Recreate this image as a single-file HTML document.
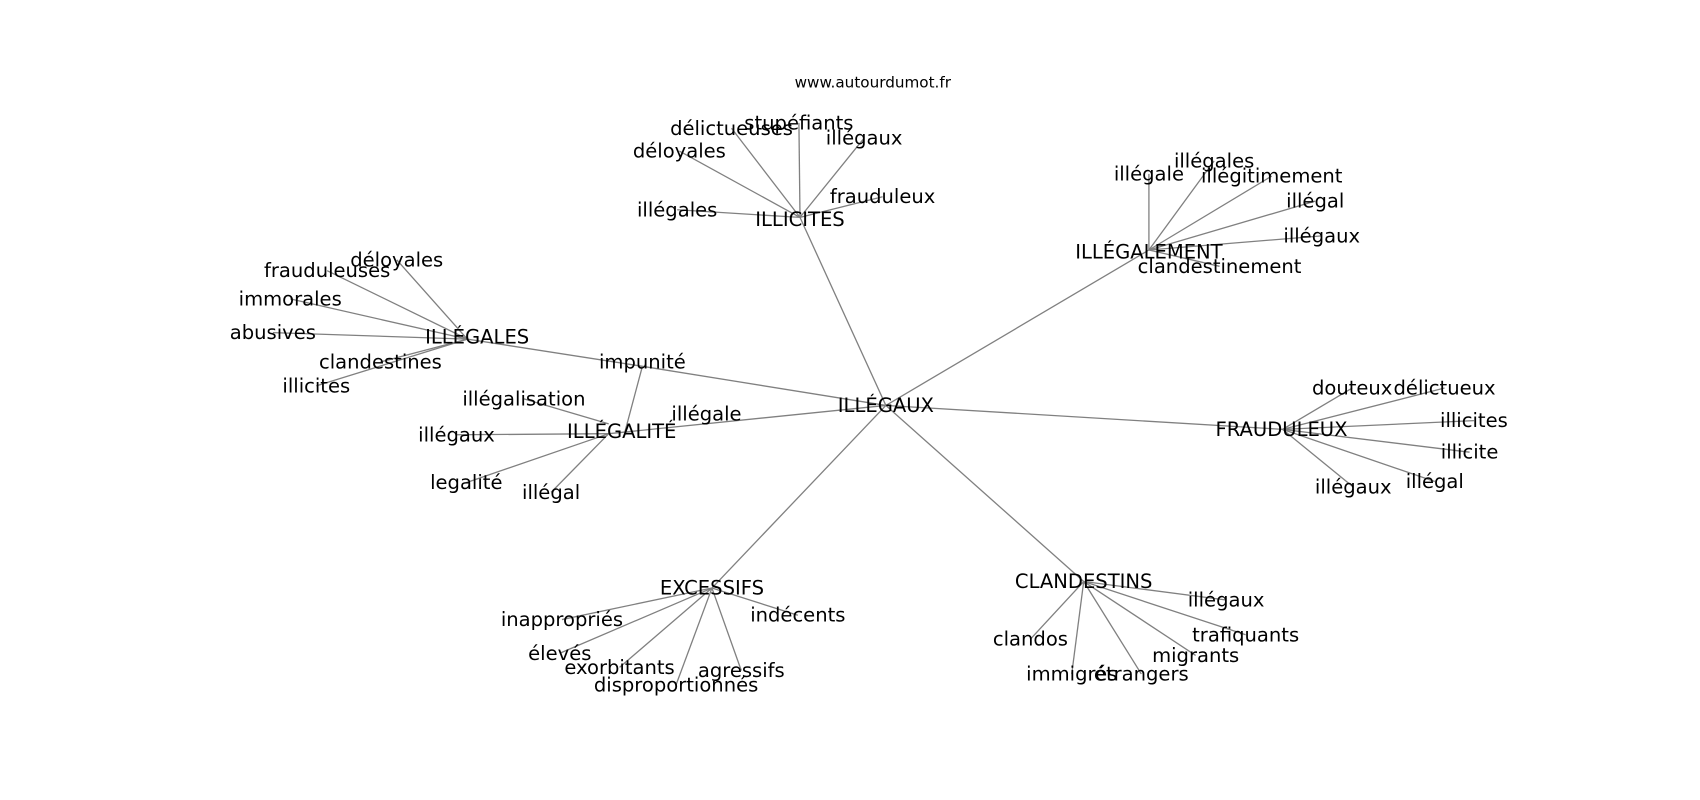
<!DOCTYPE html>
<html><head><meta charset="utf-8"><style>
html,body{margin:0;padding:0;background:#fff;}
svg{display:block;}
text{font-family:"DejaVu Sans","Liberation Sans",sans-serif;font-size:18px;fill:#000;text-anchor:middle;dominant-baseline:central;}
line{stroke:#808080;stroke-width:1.2;}
</style></head><body>
<svg width="1700" height="800" viewBox="0 0 1564 736" preserveAspectRatio="none" xmlns="http://www.w3.org/2000/svg">
<g>
<line x1="815" y1="373" x2="736" y2="200"/>
<line x1="815" y1="373" x2="1057" y2="230"/>
<line x1="815" y1="373" x2="1180" y2="395"/>
<line x1="815" y1="373" x2="997" y2="535"/>
<line x1="815" y1="373" x2="655" y2="541"/>
<line x1="815" y1="373" x2="560" y2="399"/>
<line x1="815" y1="373" x2="591" y2="337"/>
<line x1="591" y1="337" x2="430" y2="312"/>
<line x1="591" y1="337" x2="575" y2="397"/>
<line x1="736" y1="200" x2="735" y2="113"/>
<line x1="736" y1="200" x2="673" y2="118"/>
<line x1="736" y1="200" x2="795" y2="127"/>
<line x1="736" y1="200" x2="625" y2="139"/>
<line x1="736" y1="200" x2="812" y2="181"/>
<line x1="736" y1="200" x2="623" y2="193"/>
<line x1="1057" y1="230" x2="1057" y2="160"/>
<line x1="1057" y1="230" x2="1117" y2="148"/>
<line x1="1057" y1="230" x2="1170" y2="162"/>
<line x1="1057" y1="230" x2="1210" y2="185"/>
<line x1="1057" y1="230" x2="1216" y2="217"/>
<line x1="1057" y1="230" x2="1122" y2="245"/>
<line x1="1180" y1="395" x2="1244" y2="357"/>
<line x1="1180" y1="395" x2="1329" y2="357"/>
<line x1="1180" y1="395" x2="1356" y2="387"/>
<line x1="1180" y1="395" x2="1352" y2="416"/>
<line x1="1180" y1="395" x2="1320" y2="443"/>
<line x1="1180" y1="395" x2="1245" y2="448"/>
<line x1="997" y1="535" x2="1128" y2="552"/>
<line x1="997" y1="535" x2="1146" y2="584"/>
<line x1="997" y1="535" x2="1100" y2="603"/>
<line x1="997" y1="535" x2="1050" y2="620"/>
<line x1="997" y1="535" x2="986" y2="620"/>
<line x1="997" y1="535" x2="948" y2="588"/>
<line x1="655" y1="541" x2="734" y2="566"/>
<line x1="655" y1="541" x2="517" y2="570"/>
<line x1="655" y1="541" x2="515" y2="601"/>
<line x1="655" y1="541" x2="570" y2="614"/>
<line x1="655" y1="541" x2="682" y2="617"/>
<line x1="655" y1="541" x2="622" y2="630"/>
<line x1="560" y1="390" x2="482" y2="367"/>
<line x1="560" y1="399" x2="420" y2="400"/>
<line x1="560" y1="399" x2="429" y2="444"/>
<line x1="560" y1="399" x2="507" y2="453"/>
<line x1="430" y1="312" x2="365" y2="239"/>
<line x1="430" y1="312" x2="301" y2="249"/>
<line x1="430" y1="312" x2="267" y2="275"/>
<line x1="430" y1="312" x2="251" y2="306"/>
<line x1="430" y1="312" x2="350" y2="333"/>
<line x1="430" y1="312" x2="291" y2="355"/>
</g>
<text x="803" y="76" style="font-size:14px">www.autourdumot.fr</text>
<text x="815" y="373">ILLÉGAUX</text>
<text x="736" y="202">ILLICITES</text>
<text x="1057" y="232">ILLÉGALEMENT</text>
<text x="1179" y="395">FRAUDULEUX</text>
<text x="997" y="535">CLANDESTINS</text>
<text x="655" y="541">EXCESSIFS</text>
<text x="572" y="397">ILLÉGALITÉ</text>
<text x="591" y="333">impunité</text>
<text x="439" y="310">ILLÉGALES</text>

<text x="735" y="113">stupéfiants</text>
<text x="673" y="118">délictueuses</text>
<text x="795" y="127">illégaux</text>
<text x="625" y="139">déloyales</text>
<text x="812" y="181">frauduleux</text>
<text x="623" y="193">illégales</text>

<text x="1057" y="160">illégale</text>
<text x="1117" y="148">illégales</text>
<text x="1170" y="162">illégitimement</text>
<text x="1210" y="185">illégal</text>
<text x="1216" y="217">illégaux</text>
<text x="1122" y="245">clandestinement</text>

<text x="1244" y="357">douteux</text>
<text x="1329" y="357">délictueux</text>
<text x="1356" y="387">illicites</text>
<text x="1352" y="416">illicite</text>
<text x="1320" y="443">illégal</text>
<text x="1245" y="448">illégaux</text>

<text x="1128" y="552">illégaux</text>
<text x="1146" y="584">trafiquants</text>
<text x="1100" y="603">migrants</text>
<text x="1050" y="620">étrangers</text>
<text x="986" y="620">immigrés</text>
<text x="948" y="588">clandos</text>

<text x="734" y="566">indécents</text>
<text x="517" y="570">inappropriés</text>
<text x="515" y="601">élevés</text>
<text x="570" y="614">exorbitants</text>
<text x="682" y="617">agressifs</text>
<text x="622" y="630">disproportionnés</text>

<text x="482" y="367">illégalisation</text>
<text x="420" y="400">illégaux</text>
<text x="429" y="444">legalité</text>
<text x="507" y="453">illégal</text>
<text x="650" y="381">illégale</text>

<text x="365" y="239">déloyales</text>
<text x="301" y="249">frauduleuses</text>
<text x="267" y="275">immorales</text>
<text x="251" y="306">abusives</text>
<text x="350" y="333">clandestines</text>
<text x="291" y="355">illicites</text>
</svg>
</body></html>
